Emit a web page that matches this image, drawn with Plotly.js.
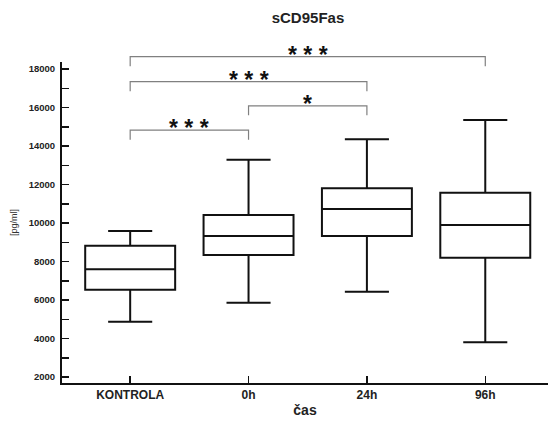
<!DOCTYPE html>
<html>
<head>
<meta charset="utf-8">
<script src="https://cdn.plot.ly/plotly-3.0.1.min.js"></script>
<style>
  html, body { margin: 0; padding: 0; background: #fff; }
  #chart { width: 548px; height: 421px; }
</style>
</head>
<body>
<div id="chart"></div>
<script>
// ---- data ----
var categories = ['KONTROLA', '0h', '24h', '96h'];
var lowerWhisker = [4870, 5860, 6430, 3800];
var q1Values = [6530, 8340, 9330, 8200];
var medianValues = [7600, 9330, 10730, 9900];
var q3Values = [8820, 10420, 11800, 11570];
var upperWhisker = [9580, 13280, 14350, 15350];

// every 1000 gets a tick; only even thousands are labelled
var yTickValues = [2000, 3000, 4000, 5000, 6000, 7000, 8000, 9000, 10000, 11000, 12000, 13000, 14000, 15000, 16000, 17000, 18000];
var yTickLabels = ['2000', '', '4000', '', '6000', '', '8000', '', '10000', '', '12000', '', '14000', '', '16000', '', '18000'];

// significance brackets: [from category index, to category index]
var bracketFrom = [0, 0, 1, 0];
var bracketTo = [3, 2, 2, 1];
var bracketLevel = [18640, 17340, 16080, 14830];   // height of bracket bar (pg/ml)
var bracketDrop = [500, 500, 480, 500];           // length of bracket legs (pg/ml)
var bracketLabels = ['*\u00a0*\u00a0*', '*\u00a0*\u00a0*', '*', '*\u00a0*\u00a0*'];

// ---- chart ----
var yRange = [1688, 18364];
function toPaper(v) { return (v - yRange[0]) / (yRange[1] - yRange[0]); }

var FONT = 'Liberation Sans, Arial, sans-serif';

var trace = {
  type: 'box',
  x: categories,
  q1: q1Values,
  median: medianValues,
  q3: q3Values,
  lowerfence: lowerWhisker,
  upperfence: upperWhisker,
  boxpoints: false,
  fillcolor: 'rgba(255,255,255,0)',
  line: { color: '#111', width: 2 },
  width: 0.76,
  whiskerwidth: 0.49,
  hoverinfo: 'skip',
  showlegend: false
};

var shapes = [];
var annotations = [];
for (var i = 0; i < bracketFrom.length; i++) {
  var barY = toPaper(bracketLevel[i]);
  var legY = toPaper(bracketLevel[i] - bracketDrop[i]);
  shapes.push({
    type: 'path',
    xref: 'x', yref: 'paper',
    path: 'M ' + bracketFrom[i] + ',' + legY + ' L ' + bracketFrom[i] + ',' + barY +
          ' L ' + bracketTo[i] + ',' + barY + ' L ' + bracketTo[i] + ',' + legY,
    line: { color: '#808080', width: 1.2 }
  });
  annotations.push({
    xref: 'x', yref: 'paper',
    x: (bracketFrom[i] + bracketTo[i]) / 2,
    y: barY,
    yanchor: 'bottom',
    yshift: -13,
    showarrow: false,
    text: bracketLabels[i],
    font: { family: FONT, size: 23, color: '#111', weight: 'bold' }
  });
}

var layout = {
  width: 548,
  height: 421,
  margin: { l: 62, r: 0, t: 62, b: 38 },
  paper_bgcolor: '#fff',
  plot_bgcolor: '#fff',
  title: {
    text: 'sCD95Fas',
    font: { family: FONT, size: 15, color: '#222', weight: 'bold' },
    x: 0.562, xref: 'container', xanchor: 'center',
    y: 0.957, yref: 'container', yanchor: 'middle'
  },
  xaxis: {
    type: 'category',
    range: [-0.576, 3.53],
    showline: true, linecolor: '#111', linewidth: 2,
    showgrid: false, zeroline: false,
    ticks: 'inside', ticklen: 7, tickwidth: 1.5, tickcolor: '#111',
    tickfont: { family: FONT, size: 12, color: '#222', weight: 'bold' },
    title: { text: 'čas', font: { family: FONT, size: 14, color: '#222', weight: 'bold' }, standoff: 4 }
  },
  yaxis: {
    range: yRange,
    showline: true, linecolor: '#111', linewidth: 2,
    showgrid: false, zeroline: false,
    tickmode: 'array', tickvals: yTickValues, ticktext: yTickLabels,
    ticks: 'inside', ticklen: 7, tickwidth: 1.5, tickcolor: '#111',
    tickfont: { family: FONT, size: 9.5, color: '#222', weight: 'bold' },
    ticklabelstandoff: 3,
    title: { text: '[pg/ml]', font: { family: FONT, size: 9, color: '#333' }, standoff: 10 }
  },
  shapes: shapes,
  annotations: annotations
};

Plotly.newPlot('chart', [trace], layout, { displayModeBar: false, staticPlot: true });
</script>
</body>
</html>
